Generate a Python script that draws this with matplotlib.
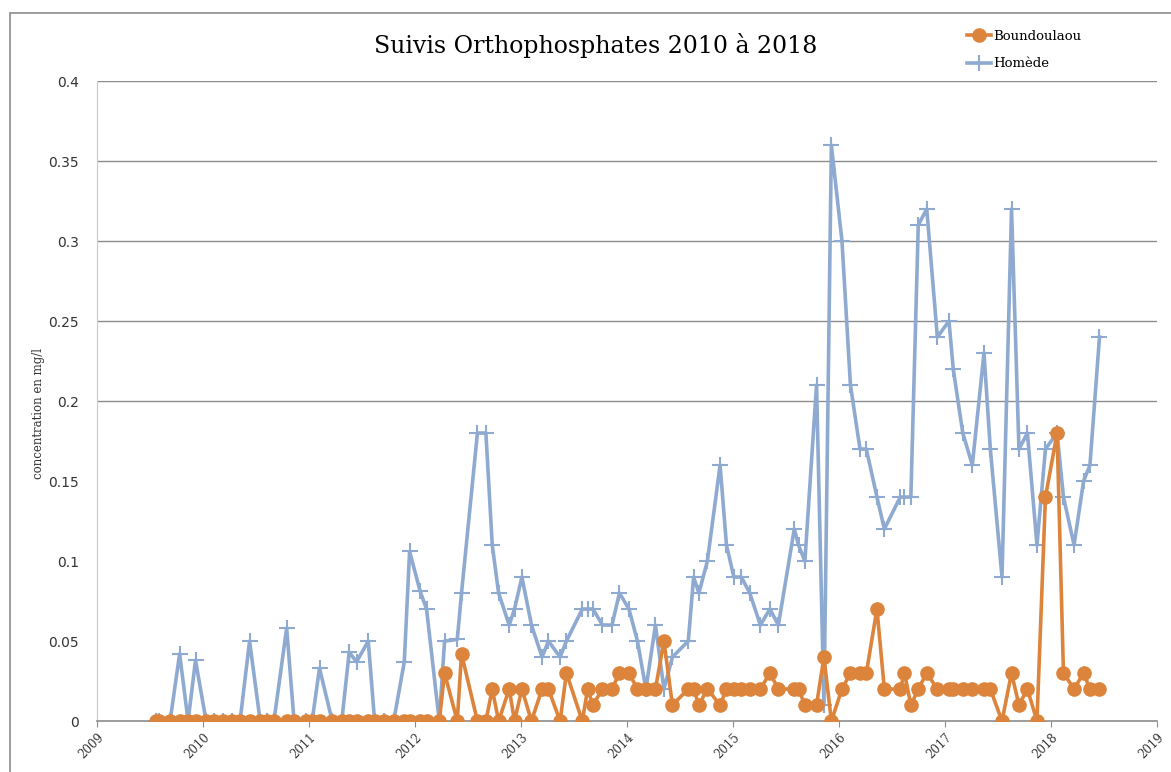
"""Suivi des orthophosphates 2010-2018, Boundoulaou et Homede"""

import matplotlib
matplotlib.use('Agg')
from matplotlib import pyplot as plt
from matplotlib.patches import Rectangle
import numpy as np

##############
### inputs ###
##############

# sampling dates (decimal years)
dates = [2009.56, 2009.59, 2009.69, 2009.78, 2009.86, 2009.93, 2010.03, 2010.10,
         2010.19, 2010.27, 2010.35, 2010.44, 2010.54, 2010.60, 2010.67, 2010.79,
         2010.86, 2010.97, 2011.03, 2011.10, 2011.22, 2011.31, 2011.38, 2011.45,
         2011.56, 2011.62, 2011.71, 2011.80, 2011.90, 2011.95, 2012.05, 2012.11,
         2012.23, 2012.28, 2012.40, 2012.44, 2012.59, 2012.67, 2012.73, 2012.79,
         2012.89, 2012.94, 2013.01, 2013.10, 2013.20, 2013.26, 2013.37, 2013.43,
         2013.58, 2013.63, 2013.68, 2013.77, 2013.86, 2013.93, 2014.02, 2014.10,
         2014.18, 2014.27, 2014.35, 2014.43, 2014.58, 2014.63, 2014.68, 2014.76,
         2014.88, 2014.94, 2015.01, 2015.08, 2015.16, 2015.26, 2015.35, 2015.43,
         2015.58, 2015.62, 2015.68, 2015.79, 2015.86, 2015.93, 2016.03, 2016.11,
         2016.20, 2016.26, 2016.36, 2016.43, 2016.58, 2016.62, 2016.68, 2016.75,
         2016.83, 2016.93, 2017.04, 2017.08, 2017.17, 2017.26, 2017.37, 2017.43,
         2017.54, 2017.63, 2017.70, 2017.78, 2017.87, 2017.95, 2018.06, 2018.12,
         2018.22, 2018.31, 2018.37, 2018.46]

boundoulaou = [0, 0, 0, 0, 0, 0, 0, 0,
               0, 0, 0, 0, 0, 0, 0, 0,
               0, 0, 0, 0, 0, 0, 0, 0,
               0, 0, 0, 0, 0, 0, 0, 0,
               0, 0.03, 0, 0.042, 0, 0, 0.02, 0,
               0.02, 0, 0.02, 0, 0.02, 0.02, 0, 0.03,
               0, 0.02, 0.01, 0.02, 0.02, 0.03, 0.03, 0.02,
               0.02, 0.02, 0.05, 0.01, 0.02, 0.02, 0.01, 0.02,
               0.01, 0.02, 0.02, 0.02, 0.02, 0.02, 0.03, 0.02,
               0.02, 0.02, 0.01, 0.01, 0.04, 0, 0.02, 0.03,
               0.03, 0.03, 0.07, 0.02, 0.02, 0.03, 0.01, 0.02,
               0.03, 0.02, 0.02, 0.02, 0.02, 0.02, 0.02, 0.02,
               0, 0.03, 0.01, 0.02, 0, 0.14, 0.18, 0.03,
               0.02, 0.03, 0.02, 0.02]

homede = [0, 0, 0, 0.042, 0, 0.038, 0, 0,
          0, 0, 0, 0.05, 0, 0, 0, 0.058,
          0, 0, 0, 0.033, 0, 0, 0.043, 0.037,
          0.05, 0, 0, 0, 0.037, 0.106, 0.081, 0.07,
          0, 0.05, 0.051, 0.08, 0.18, 0.18, 0.11, 0.08,
          0.06, 0.07, 0.09, 0.06, 0.04, 0.05, 0.04, 0.05,
          0.07, 0.07, 0.07, 0.06, 0.06, 0.08, 0.07, 0.05,
          0.02, 0.06, 0.02, 0.04, 0.05, 0.09, 0.08, 0.1,
          0.16, 0.11, 0.09, 0.09, 0.08, 0.06, 0.07, 0.06,
          0.12, 0.11, 0.1, 0.21, 0.01, 0.36, 0.3, 0.21,
          0.17, 0.17, 0.14, 0.12, 0.14, 0.14, 0.14, 0.31,
          0.32, 0.24, 0.25, 0.22, 0.18, 0.16, 0.23, 0.17,
          0.09, 0.32, 0.17, 0.18, 0.11, 0.17, 0.18, 0.14,
          0.11, 0.15, 0.16, 0.24]

year_ticks = list(range(2009, 2020))
y_ticks = [0, 0.05, 0.1, 0.15, 0.2, 0.25, 0.3, 0.35, 0.4]
grid_levels = [0.2, 0.25, 0.3, 0.35, 0.4]

c_orange = '#DD843C'
c_blue = '#8FAAD0'
c_grey = '#8C8C8C'

############
### MAIN ###
############

f = plt.figure(figsize=(11.71, 7.72), dpi=100)
ax = f.add_axes([0.0828, 0.066, 0.905, 0.829])

# outer chart frame
f.patches.append(Rectangle((10 / 1171., -0.05), 1.2, 1 - 13 / 772. + 0.05,
                           transform=f.transFigure, fill=False,
                           ec=c_grey, lw=1.2, zorder=0))

for lev in grid_levels:
    ax.axhline(lev, color=c_grey, lw=1, zorder=0)

ax.plot(dates, homede, color=c_blue, lw=2.6, marker='+', ms=12, mew=1.5,
        label='Homède', zorder=2)
ax.plot(dates, boundoulaou, color=c_orange, lw=2.6, marker='o', ms=9.5,
        label='Boundoulaou', zorder=3)

ax.set_xlim(2009, 2019)
ax.set_ylim(0, 0.4)
ax.set_xticks(year_ticks)
ax.set_xticklabels([str(y) for y in year_ticks], rotation=45, ha='right',
                   va='top', rotation_mode='anchor', family='DejaVu Serif',
                   fontsize=8.5, color='#333333')
ax.set_yticks(y_ticks)
ax.set_yticklabels(['%g' % v for v in y_ticks], fontsize=10, color='#333333')
ax.tick_params(axis='y', length=0, pad=13)
ax.tick_params(axis='x', length=4, color=c_grey, direction='out', pad=3)

for s in ['top', 'right']:
    ax.spines[s].set_visible(False)
ax.spines['left'].set_color('#C8C8C8')
ax.spines['bottom'].set_color(c_grey)
ax.spines['bottom'].set_linewidth(1.2)

ax.set_ylabel('concentration en mg/l', family='DejaVu Serif', fontsize=8.5,
              color='#333333')
ax.yaxis.set_label_coords(-0.049, 0.48)

f.text(596 / 1171., 1 - 45 / 772., 'Suivis Orthophosphates 2010 à 2018',
       ha='center', va='center', family='DejaVu Serif', fontsize=17)

h, l = ax.get_legend_handles_labels()
leg = f.legend(h[::-1], l[::-1], loc='upper left',
               bbox_to_anchor=(955 / 1171., 1 - 18 / 772.), frameon=False,
               prop={'family': 'DejaVu Serif', 'size': 9.5},
               handlelength=1.8, handletextpad=0.2, labelspacing=1.1)

f.savefig('out.png', dpi=100)
